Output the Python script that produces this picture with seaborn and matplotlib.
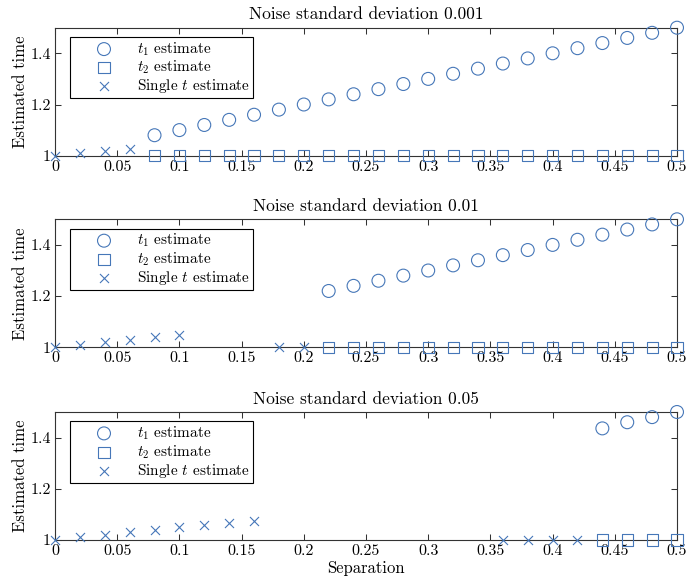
import numpy as np
import pandas as pd
import matplotlib
matplotlib.use("Agg")
import matplotlib.pyplot as plt
import seaborn as sns
from matplotlib.ticker import FormatStrFormatter

# ---------------- data ----------------
titles = ["Noise standard deviation 0.001",
          "Noise standard deviation 0.01",
          "Noise standard deviation 0.05"]

# panel 1 (sigma = 0.001)
p1_single_x = [0.0, 0.02, 0.04, 0.06]
p1_single_y = [1.0, 1.01, 1.02, 1.025]
p1_t_x = [0.08, 0.10, 0.12, 0.14, 0.16, 0.18, 0.20, 0.22, 0.24, 0.26, 0.28,
          0.30, 0.32, 0.34, 0.36, 0.38, 0.40, 0.42, 0.44, 0.46, 0.48, 0.50]
p1_t1 = [1.08, 1.10, 1.12, 1.14, 1.16, 1.18, 1.20, 1.22, 1.24, 1.26, 1.28,
         1.30, 1.32, 1.34, 1.36, 1.38, 1.40, 1.42, 1.44, 1.46, 1.48, 1.50]
p1_t2 = [1.0, 1.0, 1.0, 1.0, 1.0, 1.0, 1.0, 1.0, 1.0, 1.0, 1.0,
         1.0, 1.0, 1.0, 1.0, 1.0, 1.0, 1.0, 1.0, 1.0, 1.0, 1.0]

# panel 2 (sigma = 0.01)
p2_single_x = [0.0, 0.02, 0.04, 0.06, 0.08, 0.10, 0.18, 0.20]
p2_single_y = [1.0, 1.01, 1.02, 1.03, 1.04, 1.048, 1.0, 1.0]
p2_t_x = [0.22, 0.24, 0.26, 0.28, 0.30, 0.32, 0.34, 0.36, 0.38, 0.40,
          0.42, 0.44, 0.46, 0.48, 0.50]
p2_t1 = [1.22, 1.24, 1.26, 1.28, 1.30, 1.32, 1.34, 1.36, 1.38, 1.40,
         1.42, 1.44, 1.46, 1.48, 1.50]
p2_t2 = [1.0, 1.0, 1.0, 1.0, 1.0, 1.0, 1.0, 1.0, 1.0, 1.0,
         1.0, 1.0, 1.0, 1.0, 1.0]

# panel 3 (sigma = 0.05)
p3_single_x = [0.0, 0.02, 0.04, 0.06, 0.08, 0.10, 0.12, 0.14, 0.16,
               0.36, 0.38, 0.40, 0.42]
p3_single_y = [1.0, 1.01, 1.02, 1.03, 1.04, 1.05, 1.06, 1.066, 1.075,
               1.0, 1.0, 1.0, 1.0]
p3_t_x = [0.44, 0.46, 0.48, 0.50]
p3_t1 = [1.436, 1.46, 1.48, 1.50]
p3_t2 = [1.0, 1.0, 1.0, 1.0]

x_ticks = [0, 0.05, 0.1, 0.15, 0.2, 0.25, 0.3, 0.35, 0.4, 0.45, 0.5]
y_ticks = [1.0, 1.2, 1.4]

panels = [
    (p1_single_x, p1_single_y, p1_t_x, p1_t1, p1_t2),
    (p2_single_x, p2_single_y, p2_t_x, p2_t1, p2_t2),
    (p3_single_x, p3_single_y, p3_t_x, p3_t1, p3_t2),
]

# ---------------- style ----------------
sns.set_style("ticks")
plt.rcParams["font.family"] = ["cmr10", "DejaVu Serif"]
plt.rcParams["mathtext.fontset"] = "cm"
plt.rcParams["axes.formatter.use_mathtext"] = True
plt.rcParams["text.color"] = "black"
plt.rcParams["axes.labelcolor"] = "black"
plt.rcParams["xtick.labelcolor"] = "black"
plt.rcParams["ytick.labelcolor"] = "black"

C = "#4677b8"
EDGE = "#333333"

fig = plt.figure(figsize=(6.86, 5.84), dpi=100)
W, H = 686.0, 584.0
left_px, right_px = 55.0, 677.0
tops = [27.7, 219.3, 412.0]
height_px = 128.0

for i, (sx, sy, tx, t1, t2) in enumerate(panels):
    top = tops[i]
    ax = fig.add_axes([left_px / W, 1 - (top + height_px) / H,
                       (right_px - left_px) / W, height_px / H])
    df_t = pd.DataFrame({"sep": tx, "t1": t1, "t2": t2})
    df_s = pd.DataFrame({"sep": sx, "single": sy})

    sns.scatterplot(data=df_t, x="sep", y="t1", ax=ax, marker="o", s=9.3 ** 2,
                    facecolor="none", edgecolor=C, linewidth=0.8,
                    clip_on=False, zorder=4, label="$t_1$ estimate")
    sns.scatterplot(data=df_t, x="sep", y="t2", ax=ax, marker="s", s=8.0 ** 2,
                    facecolor="none", edgecolor=C, linewidth=0.8,
                    clip_on=False, zorder=4, label="$t_2$ estimate")
    sns.scatterplot(data=df_s, x="sep", y="single", ax=ax, marker="x", s=6.5 ** 2,
                    color=C, linewidth=0.8,
                    clip_on=False, zorder=4, label="Single $t$ estimate")

    ax.set_xlim(0, 0.5)
    ax.set_ylim(1.0, 1.5)
    ax.set_xticks(x_ticks)
    ax.set_yticks(y_ticks)
    ax.xaxis.set_major_formatter(FormatStrFormatter("%g"))
    ax.yaxis.set_major_formatter(FormatStrFormatter("%g"))
    ax.tick_params(direction="in", length=4, width=0.75, colors=EDGE,
                   labelcolor="black", labelsize=11.5, top=True, right=True,
                   pad=3)
    for sp in ax.spines.values():
        sp.set_visible(True)
        sp.set_color(EDGE)
        sp.set_linewidth(0.8)
    ax.set_title(titles[i], fontsize=12.5, pad=6, color="black")
    ax.set_ylabel("Estimated time", fontsize=12, labelpad=2)
    if i == 2:
        ax.set_xlabel("Separation", fontsize=12, labelpad=2)
    else:
        ax.set_xlabel("")

    leg = ax.legend(loc="upper left", bbox_to_anchor=(0.024, 0.927),
                    borderaxespad=0, fontsize=11, frameon=True,
                    fancybox=False, edgecolor="black", framealpha=1,
                    borderpad=0.2, handlelength=4.06, handletextpad=0.12,
                    labelspacing=0.07)
    leg.get_frame().set_linewidth(0.8)
    for t in leg.get_texts():
        t.set_color("black")

fig.savefig("out.png", dpi=100)
